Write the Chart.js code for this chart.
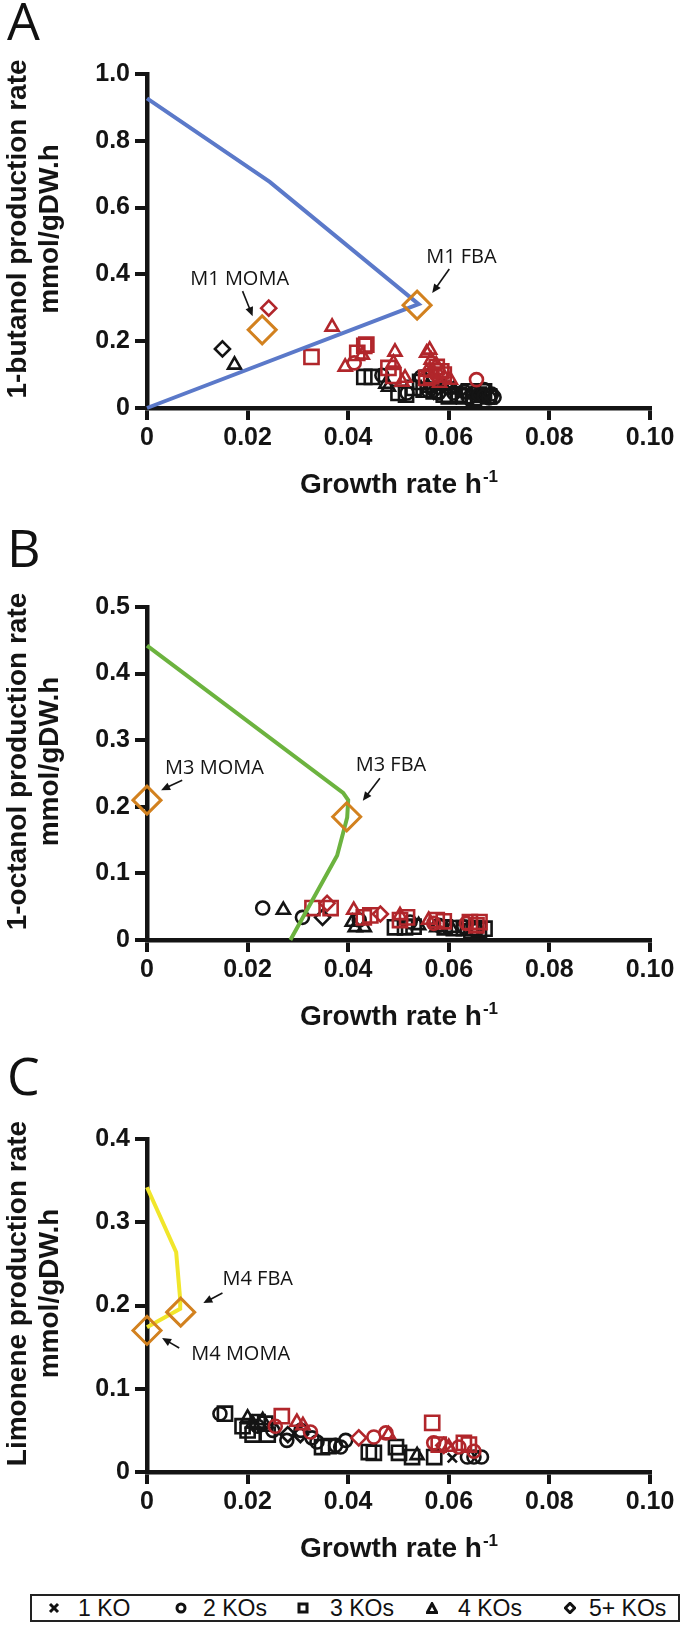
<!DOCTYPE html>
<html>
<head>
<meta charset="utf-8">
<script src="https://cdn.jsdelivr.net/npm/chart.js@4.4.0/dist/chart.umd.min.js"></script>
<style>
  body { margin: 0; background: #fff; }
  #page { position: relative; width: 684px; height: 1632px; overflow: hidden; background: #fff; }
  canvas { position: absolute; left: 0; }
  .letter { position: absolute; left: 7px; font-family: "Open Sans", "Noto Sans", sans-serif; font-size: 52px; line-height: 52px; color: #111; }
  #legend { position: absolute; left: 30px; top: 1594px; width: 646px; height: 24px; border: 2px solid #222; }
  .lg-mark { position: absolute; top: 6px; }
  .lg-text { position: absolute; top: -1px; font-family: "Liberation Sans", Arial, sans-serif; font-size: 23px; line-height: 26px; color: #111; }
</style>
</head>
<body>
<div id="page">
  <div class="letter" style="top:-6px">A</div>
  <div class="letter" style="top:521px">B</div>
  <div class="letter" style="top:1049px">C</div>
  <canvas id="chartA" width="684" height="500" style="top:0"></canvas>
  <canvas id="chartB" width="684" height="540" style="top:500px"></canvas>
  <canvas id="chartC" width="684" height="550" style="top:1040px"></canvas>
  <div id="legend"></div>
</div>
<script>
// ---- axis ticks ----
const xTickVals = [0, 0.02, 0.04, 0.06, 0.08, 0.1];
const xTickLabels = ["0", "0.02", "0.04", "0.06", "0.08", "0.10"];
const yTickValsA = [0, 0.2, 0.4, 0.6, 0.8, 1.0];
const yTickLabelsA = ["0", "0.2", "0.4", "0.6", "0.8", "1.0"];
const yTickValsB = [0, 0.1, 0.2, 0.3, 0.4, 0.5];
const yTickLabelsB = ["0", "0.1", "0.2", "0.3", "0.4", "0.5"];
const yTickValsC = [0, 0.1, 0.2, 0.3, 0.4];
const yTickLabelsC = ["0", "0.1", "0.2", "0.3", "0.4"];

const legendLabels = ["1 KO", "2 KOs", "3 KOs", "4 KOs", "5+ KOs"];

// ---- A: 1-butanol ----
const butanolEnvelope = [[0, 0.927], [0.0244, 0.677], [0.054, 0.311], [0, 0]];
const butanolModels = [[0.0537, 0.308], [0.0229, 0.234]]; // M1 FBA, M1 MOMA
const butanolBlackCross = [[0.0675, 0.028]];
const butanolBlackCircle = [[0.0467, 0.098], [0.0517, 0.045], [0.0545, 0.093], [0.056, 0.05], [0.058, 0.045],
  [0.06, 0.06], [0.061, 0.045], [0.063, 0.05], [0.064, 0.03], [0.065, 0.045], [0.066, 0.04], [0.067, 0.055],
  [0.067, 0.035], [0.068, 0.03], [0.0685, 0.042], [0.069, 0.032]];
const butanolBlackSquare = [[0.0432, 0.093], [0.0447, 0.093], [0.0543, 0.078], [0.05, 0.045], [0.0515, 0.04],
  [0.053, 0.06], [0.055, 0.055], [0.057, 0.05], [0.059, 0.04], [0.06, 0.035], [0.062, 0.04], [0.063, 0.035],
  [0.064, 0.05], [0.065, 0.03], [0.066, 0.04], [0.067, 0.05], [0.068, 0.035]];
const butanolBlackTriangle = [[0.0174, 0.129], [0.048, 0.063], [0.0475, 0.072], [0.056, 0.06], [0.059, 0.065],
  [0.061, 0.055], [0.066, 0.045]];
const butanolBlackDiamond = [[0.015, 0.177], [0.057, 0.05]];
const butanolRedCircle = [[0.0412, 0.135], [0.0575, 0.1], [0.0655, 0.085]];
const butanolRedSquare = [[0.0327, 0.153], [0.0418, 0.165], [0.0432, 0.186], [0.0436, 0.19], [0.048, 0.12],
  [0.049, 0.096], [0.0555, 0.09], [0.0565, 0.095], [0.0576, 0.123], [0.0585, 0.11], [0.059, 0.1]];
const butanolRedTriangle = [[0.0368, 0.243], [0.0394, 0.123], [0.0428, 0.159], [0.049, 0.135], [0.0493, 0.168],
  [0.0507, 0.078], [0.0513, 0.09], [0.0556, 0.108], [0.0556, 0.165], [0.0562, 0.174], [0.0565, 0.144],
  [0.057, 0.105], [0.0575, 0.13], [0.0582, 0.075], [0.0586, 0.105], [0.0603, 0.084]];
const butanolRedDiamond = [[0.0242, 0.299]];

// ---- B: 1-octanol ----
const octanolEnvelope = [[0, 0.442], [0.039, 0.221], [0.04, 0.21], [0.0398, 0.184], [0.0378, 0.127], [0.0285, 0]];
const octanolModels = [[0.0397, 0.185], [0, 0.21]]; // M3 FBA, M3 MOMA
const octanolBlackCross = [];
const octanolBlackCircle = [[0.023, 0.048], [0.0309, 0.034], [0.0422, 0.03], [0.0523, 0.027], [0.058, 0.022],
  [0.063, 0.02], [0.0655, 0.015]];
const octanolBlackSquare = [[0.0493, 0.019], [0.0513, 0.019], [0.053, 0.02], [0.0592, 0.019], [0.061, 0.018],
  [0.063, 0.018], [0.0645, 0.013], [0.065, 0.018], [0.066, 0.015], [0.0671, 0.017]];
const octanolBlackTriangle = [[0.0271, 0.045], [0.0408, 0.027], [0.0414, 0.019], [0.0432, 0.019], [0.054, 0.022],
  [0.0576, 0.019], [0.0605, 0.018]];
const octanolBlackDiamond = [[0.0349, 0.034]];
const octanolRedCircle = [[0.057, 0.025], [0.0635, 0.025]];
const octanolRedSquare = [[0.0329, 0.048], [0.0365, 0.048], [0.0431, 0.034], [0.0444, 0.037], [0.0503, 0.03],
  [0.0517, 0.034], [0.0576, 0.03], [0.059, 0.028], [0.0642, 0.027], [0.0655, 0.022], [0.0661, 0.027]];
const octanolRedTriangle = [[0.0411, 0.045], [0.0503, 0.037], [0.056, 0.03]];
const octanolRedDiamond = [[0.0358, 0.055], [0.0464, 0.039]];

// ---- C: limonene ----
const limoneneEnvelope = [[0, 0.342], [0.0058, 0.264], [0.0066, 0.207], [0.0066, 0.196], [0, 0.174]];
const limoneneModels = [[0.0067, 0.192], [0, 0.17]]; // M4 FBA, M4 MOMA
const limoneneBlackCross = [[0.0607, 0.017]];
const limoneneBlackCircle = [[0.0145, 0.07], [0.022, 0.055], [0.025, 0.05], [0.0278, 0.038], [0.0306, 0.05],
  [0.0328, 0.041], [0.0338, 0.036], [0.0375, 0.032], [0.0385, 0.03], [0.0395, 0.038], [0.0637, 0.018],
  [0.065, 0.018], [0.0665, 0.018]];
const limoneneBlackSquare = [[0.0155, 0.07], [0.019, 0.055], [0.02, 0.05], [0.021, 0.045], [0.022, 0.06],
  [0.0235, 0.058], [0.024, 0.045], [0.0348, 0.03], [0.0361, 0.031], [0.0441, 0.024], [0.0451, 0.023],
  [0.0495, 0.03], [0.0501, 0.023], [0.0527, 0.018], [0.0571, 0.018]];
const limoneneBlackTriangle = [[0.02, 0.065], [0.021, 0.058], [0.023, 0.062], [0.0537, 0.02]];
const limoneneBlackDiamond = [[0.028, 0.045], [0.0305, 0.045]];
const limoneneRedCircle = [[0.0255, 0.055], [0.0325, 0.048], [0.0451, 0.042], [0.0475, 0.047], [0.057, 0.035],
  [0.062, 0.03], [0.065, 0.025]];
const limoneneRedSquare = [[0.0268, 0.067], [0.0567, 0.059], [0.058, 0.033], [0.063, 0.035], [0.064, 0.033]];
const limoneneRedTriangle = [[0.0298, 0.06], [0.031, 0.056], [0.048, 0.045], [0.06, 0.03]];
const limoneneRedDiamond = [[0.0421, 0.041], [0.059, 0.032]];

const BLACK = "#141414";
const RED = "#b1262b";
const ORANGE = "#d2811f";
const FONT = '"Liberation Sans", Arial, Helvetica, sans-serif';
const NOTE_FONT = '"Open Sans", "Noto Sans", sans-serif';
const AXIS_LEFT = 147;

const shapeStyle = {
  cross: ["crossRot", 6.5],
  circle: ["circle", 6.5],
  square: ["rect", 10],
  triangle: ["triangle", 7.5],
  diamond: ["rectRot", 7.5]
};

function toPoints(arr) {
  return arr.map(p => ({ x: p[0], y: p[1] }));
}

function markerSet(arr, shape, color) {
  return {
    data: toPoints(arr),
    showLine: false,
    pointStyle: shapeStyle[shape][0],
    pointRadius: shapeStyle[shape][1],
    pointBorderWidth: 2.6,
    borderColor: color,
    backgroundColor: "rgba(0,0,0,0)",
    clip: false,
    order: 3
  };
}

function drawArrow(ctx, x1, y1, x2, y2) {
  const ang = Math.atan2(y2 - y1, x2 - x1);
  const hl = 9, hw = 4;
  ctx.strokeStyle = BLACK;
  ctx.fillStyle = BLACK;
  ctx.lineWidth = 1.6;
  ctx.beginPath();
  ctx.moveTo(x1, y1);
  ctx.lineTo(x2 - Math.cos(ang) * hl * 0.8, y2 - Math.sin(ang) * hl * 0.8);
  ctx.stroke();
  ctx.beginPath();
  ctx.moveTo(x2, y2);
  ctx.lineTo(x2 - Math.cos(ang) * hl - Math.sin(ang) * hw, y2 - Math.sin(ang) * hl + Math.cos(ang) * hw);
  ctx.lineTo(x2 - Math.cos(ang) * hl + Math.sin(ang) * hw, y2 - Math.sin(ang) * hl - Math.cos(ang) * hw);
  ctx.closePath();
  ctx.fill();
}

// titles, model labels and arrows
const decor = {
  id: "decor",
  afterDraw(chart, args, opts) {
    const ctx = chart.ctx;
    const ca = chart.chartArea;
    const xs = chart.scales.x, ys = chart.scales.y;
    ctx.save();
    ctx.fillStyle = BLACK;

    // y title, two lines
    ctx.font = "bold 28px " + FONT;
    ctx.textAlign = "center";
    ctx.textBaseline = "middle";
    const cy = (ca.top + ca.bottom) / 2 - 12;
    opts.yTitle.forEach((line, i) => {
      ctx.save();
      ctx.translate([18, 50][i], cy);
      ctx.rotate(-Math.PI / 2);
      ctx.fillText(line, 0, 0);
      ctx.restore();
    });

    // x title with superscript
    ctx.textBaseline = "alphabetic";
    ctx.textAlign = "left";
    const main = "Growth rate h";
    ctx.font = "bold 28px " + FONT;
    const w1 = ctx.measureText(main).width;
    ctx.font = "bold 17px " + FONT;
    const w2 = ctx.measureText("-1").width;
    const x0 = (ca.left + ca.right) / 2 - (w1 + w2) / 2;
    const by = ca.bottom + 85;
    ctx.font = "bold 28px " + FONT;
    ctx.fillText(main, x0, by);
    ctx.font = "bold 17px " + FONT;
    ctx.fillText("-1", x0 + w1 + 1, by - 11);

    // model labels
    ctx.font = "20px " + NOTE_FONT;
    opts.notes.forEach(n => {
      ctx.fillText(n[0], xs.getPixelForValue(n[1]), ys.getPixelForValue(n[2]));
    });
    opts.arrows.forEach(a => {
      drawArrow(ctx, xs.getPixelForValue(a[0]), ys.getPixelForValue(a[1]),
        xs.getPixelForValue(a[2]), ys.getPixelForValue(a[3]));
    });
    ctx.restore();
  }
};

function axis(extra) {
  return Object.assign({
    type: "linear",
    grid: { drawOnChartArea: false, drawTicks: true, tickLength: 12, lineWidth: 4, tickWidth: 4, color: BLACK, tickColor: BLACK },
    border: { display: true, width: 4.5, color: BLACK }
  }, extra);
}

function buildPanel(id, p) {
  const canvas = document.getElementById(id);
  const H = canvas.height;
  const datasets = [
    {
      data: toPoints(p.models),
      showLine: false,
      pointStyle: "rectRot",
      pointRadius: 14,
      pointBorderWidth: 3,
      borderColor: ORANGE,
      backgroundColor: "rgba(0,0,0,0)",
      clip: false,
      order: 0
    },
    {
      data: toPoints(p.envelope),
      showLine: true,
      borderColor: p.lineColor,
      borderWidth: 4,
      pointRadius: 0,
      tension: 0,
      fill: false,
      clip: false,
      order: 1
    },
    markerSet(p.red.triangle, "triangle", RED),
    markerSet(p.red.square, "square", RED),
    markerSet(p.red.circle, "circle", RED),
    markerSet(p.red.diamond, "diamond", RED),
    markerSet(p.black.cross, "cross", BLACK),
    markerSet(p.black.circle, "circle", BLACK),
    markerSet(p.black.square, "square", BLACK),
    markerSet(p.black.triangle, "triangle", BLACK),
    markerSet(p.black.diamond, "diamond", BLACK)
  ];
  datasets.forEach((d, i) => { if (d.order === 3) d.order = 3 + i; });

  return new Chart(canvas, {
    type: "scatter",
    data: { datasets },
    options: {
      responsive: false,
      animation: false,
      events: [],
      layout: { padding: { top: p.top, right: 34, left: 0, bottom: 0 } },
      plugins: {
        legend: { display: false },
        tooltip: { enabled: false },
        decor: { yTitle: p.yTitle, notes: p.notes, arrows: p.arrows }
      },
      scales: {
        x: axis({
          min: 0, max: 0.1,
          afterBuildTicks: s => { s.ticks = xTickVals.map(v => ({ value: v })); },
          afterFit: s => { s.height = H - p.bottom; },
          ticks: {
            callback: (v, i) => xTickLabels[i],
            font: { family: FONT, weight: "bold", size: 25 },
            color: BLACK, padding: 3, maxRotation: 0, autoSkip: false
          }
        }),
        y: axis({
          min: 0, max: p.yMax,
          afterBuildTicks: s => { s.ticks = p.yTicks.map(v => ({ value: v })); },
          afterFit: s => { s.width = AXIS_LEFT; },
          ticks: {
            callback: (v, i) => p.yLabels[i],
            font: { family: FONT, weight: "bold", size: 25 },
            color: BLACK, padding: 5, autoSkip: false
          }
        })
      }
    },
    plugins: [decor]
  });
}

buildPanel("chartA", {
  top: 74, bottom: 408, yMax: 1.0,
  yTicks: yTickValsA, yLabels: yTickLabelsA,
  yTitle: ["1-butanol production rate", "mmol/gDW.h"],
  envelope: butanolEnvelope, lineColor: "#5b79c9", models: butanolModels,
  black: { cross: butanolBlackCross, circle: butanolBlackCircle, square: butanolBlackSquare, triangle: butanolBlackTriangle, diamond: butanolBlackDiamond },
  red: { circle: butanolRedCircle, square: butanolRedSquare, triangle: butanolRedTriangle, diamond: butanolRedDiamond },
  notes: [["M1 FBA", 0.0555, 0.434], ["M1 MOMA", 0.0086, 0.368]],
  arrows: [[0.0601, 0.416, 0.0567, 0.344], [0.019, 0.35, 0.021, 0.275]]
});

buildPanel("chartB", {
  top: 107, bottom: 440, yMax: 0.5,
  yTicks: yTickValsB, yLabels: yTickLabelsB,
  yTitle: ["1-octanol production rate", "mmol/gDW.h"],
  envelope: octanolEnvelope, lineColor: "#6cb33f", models: octanolModels,
  black: { cross: octanolBlackCross, circle: octanolBlackCircle, square: octanolBlackSquare, triangle: octanolBlackTriangle, diamond: octanolBlackDiamond },
  red: { circle: octanolRedCircle, square: octanolRedSquare, triangle: octanolRedTriangle, diamond: octanolRedDiamond },
  notes: [["M3 MOMA", 0.0036, 0.249], ["M3 FBA", 0.0415, 0.254]],
  arrows: [[0.007, 0.24, 0.0028, 0.225], [0.0463, 0.243, 0.0429, 0.209]]
});

buildPanel("chartC", {
  top: 99, bottom: 432, yMax: 0.4,
  yTicks: yTickValsC, yLabels: yTickLabelsC,
  yTitle: ["Limonene production rate", "mmol/gDW.h"],
  envelope: limoneneEnvelope, lineColor: "#f1e62b", models: limoneneModels,
  black: { cross: limoneneBlackCross, circle: limoneneBlackCircle, square: limoneneBlackSquare, triangle: limoneneBlackTriangle, diamond: limoneneBlackDiamond },
  red: { circle: limoneneRedCircle, square: limoneneRedSquare, triangle: limoneneRedTriangle, diamond: limoneneRedDiamond },
  notes: [["M4 FBA", 0.015, 0.2245], ["M4 MOMA", 0.0088, 0.1345]],
  arrows: [[0.015, 0.215, 0.0112, 0.203], [0.0064, 0.149, 0.003, 0.161]]
});

// legend (outside the plots, HTML box)
const legendMarks = [
  '<line x1="2" y1="2" x2="10" y2="10"/><line x1="10" y1="2" x2="2" y2="10"/>',
  '<circle cx="6" cy="6" r="4"/>',
  '<rect x="2" y="2" width="8" height="8"/>',
  '<polygon points="6,1.8 10.6,10.4 1.4,10.4"/>',
  '<polygon points="6,1.3 10.7,6 6,10.7 1.3,6"/>'
];
const legendMarkX = [16, 143, 265, 394, 532];
const legendTextX = [46, 171, 298, 426, 557];
const legend = document.getElementById("legend");
legendLabels.forEach((t, i) => {
  legend.insertAdjacentHTML("beforeend",
    '<svg class="lg-mark" style="left:' + legendMarkX[i] + 'px" width="12" height="12" fill="none" stroke="#111" stroke-width="3">' +
    legendMarks[i] + '</svg><div class="lg-text" style="left:' + legendTextX[i] + 'px">' + t + '</div>');
});
</script>
</body>
</html>
